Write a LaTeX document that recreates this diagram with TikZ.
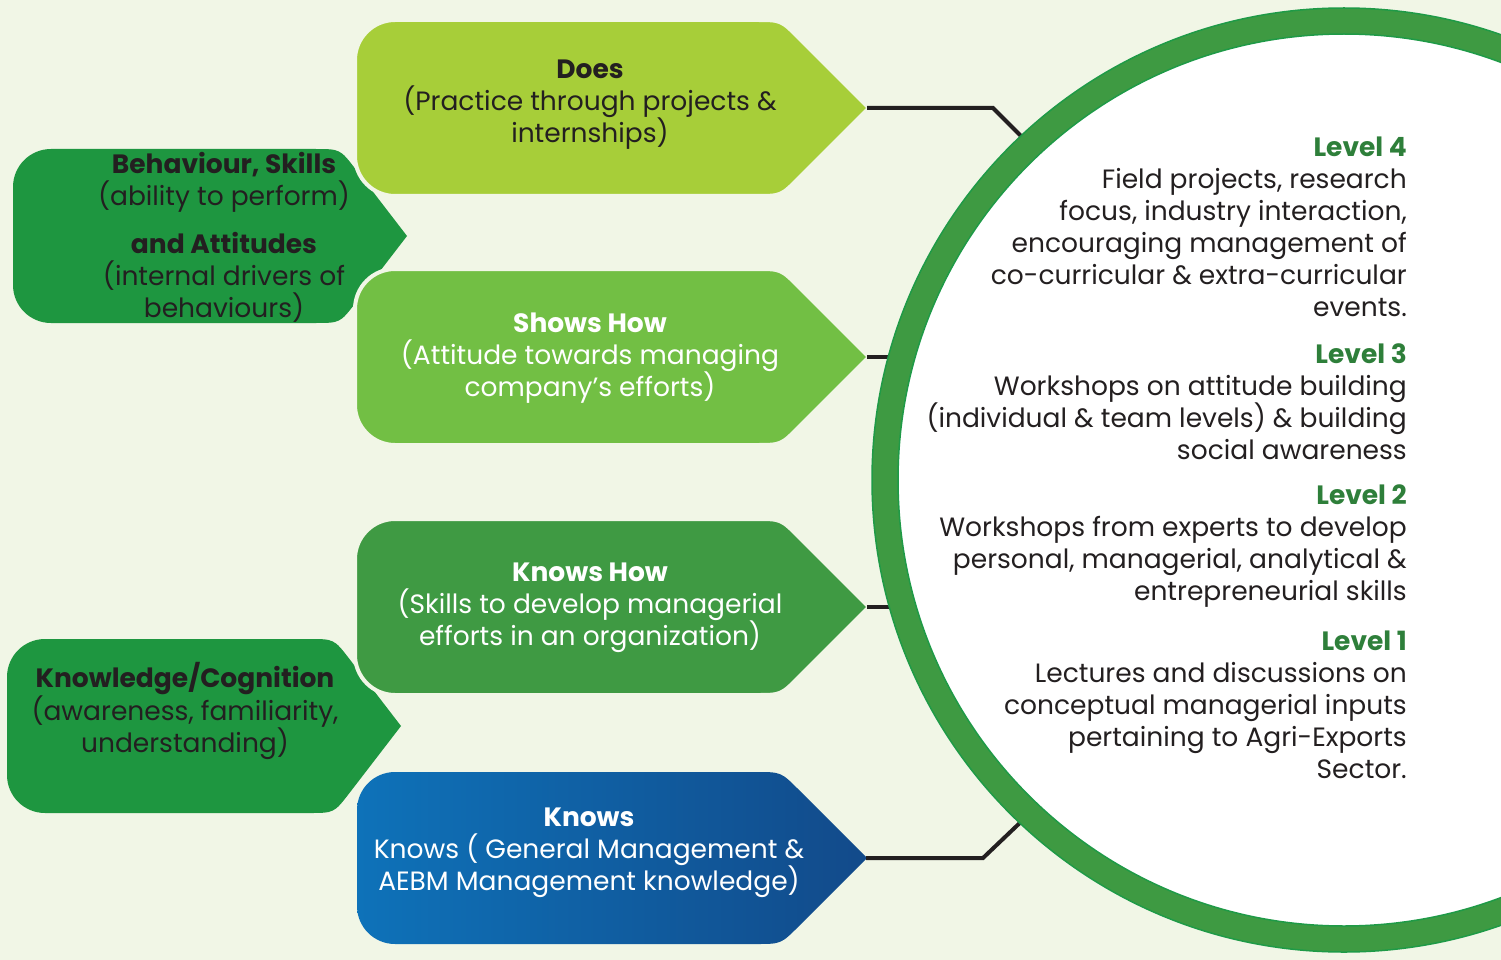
\documentclass[tikz,border=0pt]{standalone}
\usepackage{fontspec}
\setmainfont{Poppins}
\definecolor{bgc}{HTML}{F1F6E6}
\definecolor{doesc}{HTML}{A7CE39}
\definecolor{showc}{HTML}{72BF44}
\definecolor{khc}{HTML}{3F9A43}
\definecolor{leftc}{HTML}{1E9640}
\definecolor{blueL}{HTML}{0E72B9}
\definecolor{blueR}{HTML}{124A8A}
\definecolor{ringc}{HTML}{3E9A42}
\definecolor{ringedge}{HTML}{1F9A47}
\definecolor{levelc}{HTML}{2E7F3A}
\definecolor{textdark}{HTML}{231F20}
\begin{document}
\begin{tikzpicture}[x=1pt,y=-1pt,
  every node/.style={inner sep=0pt},
  txt/.style={align=center, font=\fontsize{26.5}{32}\selectfont, text=textdark},
  rtxt/.style={align=right, font=\fontsize{26.5}{32}\selectfont, text=textdark, anchor=east},
  conn/.style={line width=4pt, draw=textdark},
  gapline/.style={draw=bgc, line width=4pt}]
\useasboundingbox (0,0) rectangle (1501,960);
\clip (0,0) rectangle (1501,960);
\fill[bgc] (0,0) rectangle (1501,960);

% left shapes
\foreach \sx/\sy in {0/0, -6/490} {
\fill[leftc, shift={(\sx,\sy)}] (13,187) .. controls (13,166) and (30,149) .. (51,149)
  -- (315,149) .. controls (340,149) .. (355.3,168.8) -- (407,236)
  -- (355.3,303.2) .. controls (340,323) .. (315,323)
  -- (51,323) .. controls (30,323) and (13,306) .. (13,285) -- cycle;
}

% right shapes
\foreach \dy/\col in {0/doesc, 249/showc, 499/khc} {
\filldraw[fill=\col, gapline, shift={(0,\dy)}] (355,60) .. controls (355,38) and (373,20) .. (395,20)
  -- (756,20) .. controls (781,20) .. (798.7,37.7) -- (869,108)
  -- (798.7,178.3) .. controls (781,196) .. (756,196)
  -- (395,196) .. controls (373,196) and (355,178) .. (355,156) -- cycle;
}
\draw[gapline, shift={(0,750)}] (355,60) .. controls (355,38) and (373,20) .. (395,20)
  -- (756,20) .. controls (781,20) .. (798.7,37.7) -- (869,108)
  -- (798.7,178.3) .. controls (781,196) .. (756,196)
  -- (395,196) .. controls (373,196) and (355,178) .. (355,156) -- cycle;
\shade[left color=blueL, right color=blueR, shift={(0,750)}] (357,60) .. controls (357,39) and (374,22) .. (395,22)
  -- (756,22) .. controls (781,22) .. (798.7,39.7) -- (867,108)
  -- (798.7,176.3) .. controls (781,194) .. (756,194)
  -- (395,194) .. controls (374,194) and (357,177) .. (357,156) -- cycle;

% connectors
\coordinate (doesTip) at (867,108);
\coordinate (doesBend) at (993,108);
\coordinate (doesEnd) at (1032,147);
\coordinate (showTip) at (867,357);
\coordinate (showEnd) at (900,357);
\coordinate (khTip) at (867,607);
\coordinate (khEnd) at (900,607);
\coordinate (knTip) at (866,858);
\coordinate (knBend) at (983,858);
\coordinate (knEnd) at (1025,818);
\draw[conn] (doesTip) -- (doesBend) -- (doesEnd);
\draw[conn] (showTip) -- (showEnd);
\draw[conn] (khTip) -- (khEnd);
\draw[conn] (knTip) -- (knBend) -- (knEnd);

% ring
\fill[white] (1344,480) circle (472pt);
\draw[ringc, line width=26pt] (1344,480) circle (459pt);
\draw[ringedge, line width=1.5pt] (1344,480) circle (472pt);
\draw[ringedge, line width=1.5pt] (1344,480) circle (446pt);

% texts
\node[txt] (does) at (590,105) {\textbf{Does}\\(Practice through projects \&\\internships)};
\node[txt, text=white] (shows) at (590,358) {\textbf{Shows How}\\(Attitude towards managing\\company’s efforts)};
\node[txt, text=white] (knowshow) at (590,608) {\textbf{Knows How}\\(Skills to develop managerial\\efforts in an organization)};
\node[txt, text=white] (knows) at (589,853) {\textbf{Knows}\\Knows ( General Management \&\\AEBM Management knowledge)};
\node[txt] (behav) at (224,237) {\textbf{Behaviour, Skills}\\(ability to perform)\\[16pt]\textbf{and Attitudes}\\(internal drivers of\\behaviours)};
\node[txt] (knowl) at (185,711) {\textbf{Knowledge/Cognition}\\(awareness, familiarity,\\understanding)};

\node[rtxt] (l4) at (1407,227) {\textcolor{levelc}{\textbf{Level 4}}\\Field projects, research\\focus, industry interaction,\\encouraging management of\\co-curricular \& extra-curricular\\events.};
\node[rtxt] (l3) at (1407,402) {\textcolor{levelc}{\textbf{Level 3}}\\Workshops on attitude building\\(individual \& team levels) \& building\\social awareness};
\node[rtxt] (l2) at (1407,546) {\textcolor{levelc}{\textbf{Level 2}}\\Workshops from experts to develop\\personal, managerial, analytical \&\\entrepreneurial skills};
\node[rtxt] (l1) at (1407,705) {\textcolor{levelc}{\textbf{Level 1}}\\Lectures and discussions on\\conceptual managerial inputs\\pertaining to Agri-Exports\\Sector.};
\end{tikzpicture}
\end{document}
